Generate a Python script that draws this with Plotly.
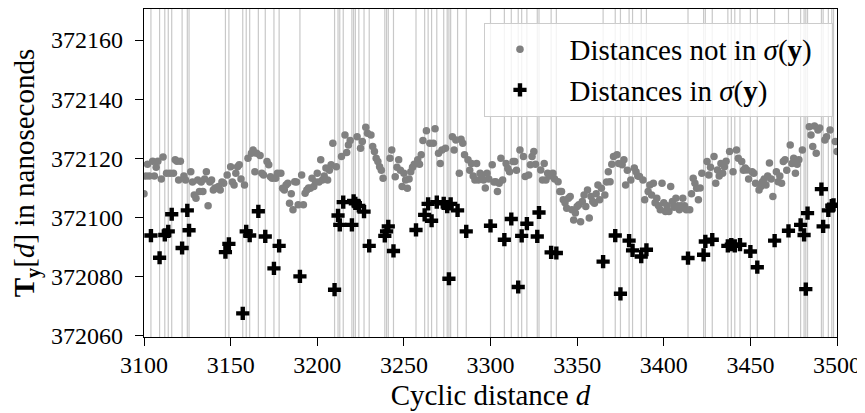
import plotly.graph_objects as go

# Distances in sigma(y) and their timings (ns)
d_in = [3104, 3109, 3112, 3114, 3116, 3122, 3125, 3126, 3147, 3149, 3157, 3159, 3161, 3166, 3170, 3175, 3178,
        3190, 3210, 3212, 3213, 3215, 3220, 3221, 3222, 3224, 3227, 3230, 3239, 3240, 3241, 3244, 3257, 3262,
        3264, 3266, 3269, 3273, 3275, 3276, 3277, 3281, 3286,
        3300, 3308, 3312, 3316, 3318, 3321, 3327, 3328, 3335, 3338, 3365, 3372, 3375, 3380, 3382, 3387, 3390,
        3414, 3423, 3424, 3428, 3437, 3439, 3441, 3444, 3450, 3454, 3464, 3472, 3479, 3481, 3482, 3483, 3491,
        3492, 3495, 3497, 3498]
t_in = [372093.9, 372086.4, 372094.1, 372095.3, 372101.1, 372089.7, 372102.4, 372095.7, 372088.3, 372091.1,
        372067.6, 372095.3, 372093.9, 372102.1, 372093.6, 372082.8, 372090.4,
        372080.1, 372075.6, 372100.7, 372097.5, 372105.2, 372097.5, 372105.6, 372104.8, 372103.9, 372102.0,
        372090.4, 372093.8, 372095.3, 372097.0, 372088.7, 372095.8, 372100.9, 372104.6, 372098.9, 372105.2,
        372104.8, 372103.7, 372079.3, 372104.6, 372102.4, 372095.3,
        372097.2, 372092.5, 372099.5, 372076.5, 372093.8, 372097.9, 372093.6, 372101.7, 372088.2, 372088.0,
        372085.1, 372093.9, 372074.2, 372092.2, 372088.9, 372086.8, 372089.1,
        372086.3, 372087.4, 372091.9, 372092.5, 372090.4, 372090.8, 372090.4, 372090.8, 372088.5, 372083.2,
        372092.2, 372095.5, 372097.5, 372094.1, 372075.8, 372101.5, 372109.6, 372097.0, 372102.4, 372104.0,
        372104.3]

# Timings of distances not in sigma(y): rows of 10 starting at d = 3100 (None = distance in sigma(y))
d_first = 3100
t_not_rows = [
    [372108, 372114, 372118, 372114, None, 372119, 372114, 372117, 372119, None],
    [372113, 372120.5, None, 372115, None, 372115, None, 372115, 372119.5, 372119],
    [372112.7, 372119, None, 372114, 372112.7, None, None, 372115.5, 372112, 372107.6],
    [372106.5, 372112.7, 372108.8, 372112, 372108.8, 372113, 372115.5, 372104, 372112, 372112.7],
    [372109.3, 372110, 372109.9, 372110.5, 372109.3, 372112, 372111.6, None, 372114.4, None],
    [372117.2, 372112, 372111, 372115, 372117.2, 372117.8, 372113, None, 372111, None],
    [372120, None, 372121.7, 372122.8, 372115.5, 372121.7, None, 372121, 372115, 372114.4],
    [None, 372118.9, 372117.8, 372113.8, 372113.3, None, 372113.3, 372115, None, 372115],
    [372109.9, 372109.3, 372111, 372111.6, 372104.8, 372108, 372102.6, 372112.1, 372112, 372104.3],
    [None, 372114.4, 372104.3, 372108.2, 372109.3, 372110, 372109.9, 372113.3, 372110.5, 372112],
    [372115, 372112, 372119.5, 372112.7, 372114, 372116.7, 372112.7, 372116, 372117.8, 372125.1],
    [None, 372117.2, None, None, 372120.6, None, 372127.9, 372122, 372124.5, 372126],
    [None, None, None, 372127.3, None, 372123.4, 372125.7, None, 372130.5, 372128.5],
    [None, 372127.9, 372124, 372122.3, 372120, 372118.9, 372117.2, 372116, 372113.3, None],
    [None, None, 372120, 372122.8, None, 372113.8, 372117, 372119.5, 372116, 372110.5],
    [372115, 372112.7, 372109.9, 372113, 372115.5, 372117, 372118, None, 372119.5, 372118],
    [372121.2, 372126, None, 372129.3, None, 372125.1, None, 372125.1, 372130, None],
    [372121.7, 372118.3, 372122.8, None, 372123.4, None, None, None, 372127.3, 372122.8],
    [372126.2, None, 372115, 372126.5, 372125.1, 372121.2, None, 372119.5, 372116, 372118.3],
    [372114, 372112.7, 372118.3, 372112.7, 372115, 372114.4, 372112.7, 372110, 372115, 372113],
    [None, 372117.8, 372112, 372112.1, 372108.8, 372111.6, 372120, 372112.7, None, 372118.3],
    [372116.6, 372115.5, None, 372118.9, 372118.9, 372116, None, 372122.8, None, 372120.6],
    [372113.9, None, 372114.4, 372117.8, 372120.6, 372122.3, 372118, None, None, 372116.1],
    [372112.7, 372118.3, 372112.7, 372115, 372114, None, 372115, 372113, None, 372112.1],
    [372108.8, 372108.8, 372106, 372105, 372103.1, 372106.5, 372107.1, 372102.6, 372099.2, 372101.5],
    [372103.7, 372104.3, 372098.6, 372105.4, 372107.6, 372103.7, 372109.3, 372099.8, 372107.1, 372105.4],
    [372104.8, 372108, 372111, 372106, 372109.9, None, 372107.6, 372112, 372115.5, 372112.1],
    [372118, 372120.6, None, 372121.2, 372118.3, None, 372117.8, 372119.5, 372111, 372116],
    [None, 372112.7, None, 372116.7, 372115.5, 372114, 372113.9, None, 372112.7, 372106],
    [None, 372108.8, 372111, 372107.6, 372111.6, 372105, 372106.5, 372104, 372102.6, 372111.6],
    [372105, 372102, 372104, 372102, 372110.5, 372105.4, 372103.5, 372106.5, 372104, 372102.6],
    [372104, 372106.5, 372104, 372102.6, None, 372102.6, 372108, 372113.3, 372111.6, 372109.9],
    [372106, 372110, 372115, None, None, 372118.9, 372114.4, 372117, None, 372120.6],
    [372111.6, 372116.1, 372114, 372118.3, 372115, 372117.2, 372119, None, 372122.3, None],
    [372115.5, None, 372122.8, 372120, None, 372118.9, 372116, 372116.7, 372116.1, 372113],
    [None, 372115.5, 372115, 372111.6, None, 372109.3, 372110.5, 372112.1, 372113, 372111],
    [372114, 372118.4, 372113, 372107.1, None, 372115.5, 372112.1, 372114, 372111.6, 372118.9],
    [372119.5, 372116, None, 372124.5, 372118.3, 372120, 372115, 372118, 372119.5, None],
    [372122.8, None, None, None, 372130.7, 372127.9, 372124, 372130.9, 372121.7, 372129.6],
    [372130.3, None, None, 372126.2, 372127.3, None, 372129.6, None, None, 372125.7],
    [372122.3],
]

x_ticks = [3100, 3150, 3200, 3250, 3300, 3350, 3400, 3450, 3500]
y_ticks = [372060, 372080, 372100, 372120, 372140, 372160]

in_set = set(d_in)
d_not, t_not = [], []
for i, row in enumerate(t_not_rows):
    for j, v in enumerate(row):
        d = d_first + 10 * i + j
        if v is None or d in in_set:
            continue
        d_not.append(d)
        t_not.append(v)

FONT = "Liberation Serif"
fig = go.Figure()
fig.add_trace(go.Scatter(
    x=d_not, y=t_not, mode="markers",
    name="&nbsp;&nbsp;Distances not in <i>σ</i>(<b>y</b>)&nbsp;&nbsp;",
    marker=dict(color="#808080", size=7.5, line=dict(width=0)),
))
fig.add_trace(go.Scatter(
    x=d_in, y=t_in, mode="markers",
    name="&nbsp;&nbsp;Distances in <i>σ</i>(<b>y</b>)",
    marker=dict(color="black", size=11, symbol="cross", line=dict(width=0)),
))

shapes = [dict(type="line", xref="x", yref="paper", x0=d, x1=d, y0=0, y1=1,
               line=dict(color="#c8c8c8", width=1.2), layer="below") for d in d_in]

# the page adds an 8 px body margin, so the figure is sized/offset to compensate
fig.update_layout(
    width=857, height=405,
    margin=dict(l=136, r=28, t=1, b=76, autoexpand=False),
    plot_bgcolor="white", paper_bgcolor="white",
    font=dict(family=FONT, size=24, color="black"),
    shapes=shapes,
    showlegend=True,
    legend=dict(
        x=0.9942, y=0.958, xanchor="right", yanchor="top",
        bgcolor="rgba(255,255,255,0.8)", bordercolor="#cccccc", borderwidth=1,
        font=dict(family=FONT, size=29), itemwidth=60, tracegroupgap=0,
    ),
    xaxis=dict(
        range=[3100, 3500], tickvals=x_ticks, ticks="outside", ticklen=8, tickwidth=1.3,
        tickcolor="black", showline=True, linecolor="black", linewidth=1.3, mirror=True,
        showgrid=False, zeroline=False, automargin=False, ticklabelstandoff=-2,
        title=dict(text="Cyclic distance <i>d</i>", standoff=7),
    ),
    yaxis=dict(
        range=[372059.6, 372170.5], tickvals=y_ticks, tickformat="d", ticks="outside", ticklen=8,
        tickwidth=1.3, tickcolor="black", showline=True, linecolor="black", linewidth=1.3,
        mirror=True, showgrid=False, zeroline=False, automargin=False, ticklabelstandoff=7,
        title=dict(text="<b>T</b><sub><b>y</b></sub>[<i>d</i>] in nanoseconds", standoff=22),
    ),
)

fig.write_html("out.html")
